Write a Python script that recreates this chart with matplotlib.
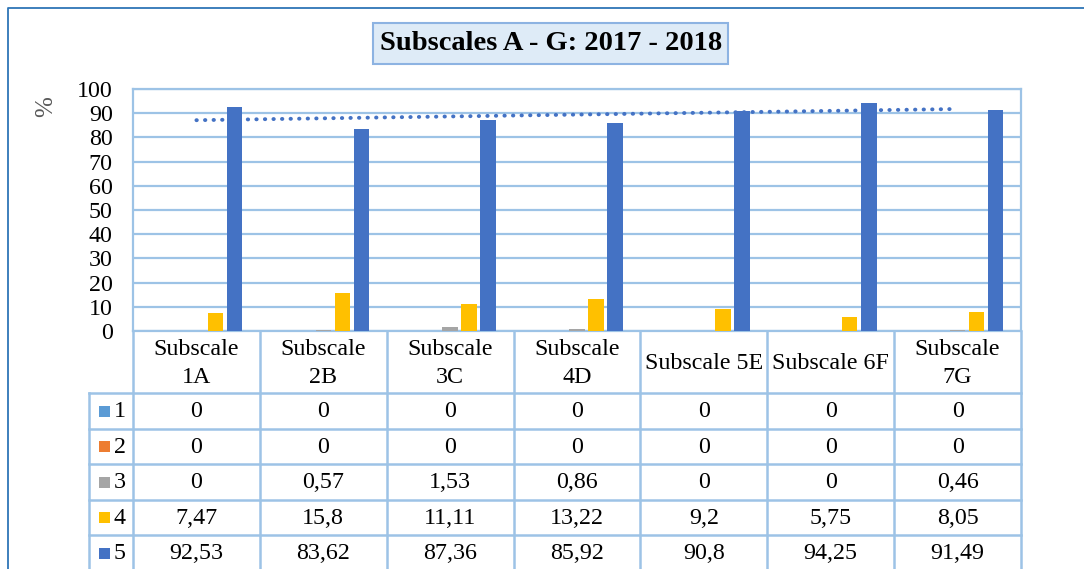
import numpy as np
import matplotlib.pyplot as plt
from matplotlib.patches import Rectangle
from matplotlib.lines import Line2D

plt.rcParams['font.family'] = ['Liberation Serif', 'DejaVu Serif']

# ---------------- data ----------------
categories = ["Subscale\n1A", "Subscale\n2B", "Subscale\n3C", "Subscale\n4D",
              "Subscale 5E", "Subscale 6F", "Subscale\n7G"]
series_names = ["1", "2", "3", "4", "5"]
s1 = [0, 0, 0, 0, 0, 0, 0]
s2 = [0, 0, 0, 0, 0, 0, 0]
s3 = [0, 0.57, 1.53, 0.86, 0, 0, 0.46]
s4 = [7.47, 15.8, 11.11, 13.22, 9.2, 5.75, 8.05]
s5 = [92.53, 83.62, 87.36, 85.92, 90.8, 94.25, 91.49]
series = [s1, s2, s3, s4, s5]
colors = ["#5b9bd5", "#ed7d31", "#a5a5a5", "#ffc000", "#4472c4"]

grid_c = "#9dc3e6"
W, H = 1084, 569
fs = 17.3

fig = plt.figure(figsize=(W / 100, H / 100), dpi=100)


def fbox(x0, y0, x1, y1):
    # pixel box (top-left origin) -> figure fraction rect
    return [x0 / W, 1 - y1 / H, (x1 - x0) / W, (y1 - y0) / H]


# outer chart frame
fig.add_artist(Line2D([8 / W, 8 / W, 1.0], [0.0, 1 - 8 / H, 1 - 8 / H],
                      transform=fig.transFigure, color="#2e75b6", lw=1.3))

# ---------------- bar chart ----------------
ax = fig.add_axes(fbox(133, 89, 1021, 331))
x = np.arange(len(categories))
step, bw = 0.15, 0.122
for i, (vals, c) in enumerate(zip(series, colors)):
    ax.bar(x + (i - 2) * step, vals, width=bw, color=c, zorder=3)

# linear trendline of series 5
k, b = np.polyfit(x, s5, 1)
ax.plot(x, k * x + b, color="#4472c4", lw=2.8,
        linestyle=(0, (0.1, 2.1)), dash_capstyle="round", zorder=4)

ax.set_xlim(-0.5, len(categories) - 0.5)
ax.set_ylim(0, 100)
ax.set_yticks(range(0, 101, 10))
ax.set_xticks([])
ax.tick_params(axis='y', length=0, pad=14.5, labelsize=fs)
ax.grid(axis='y', color=grid_c, lw=1.6, zorder=0)
for sp in ax.spines.values():
    sp.set_color(grid_c)
    sp.set_linewidth(1.6)
fig.text(46 / W, 1 - 107 / H, "%", rotation=90, ha="center", va="center",
         fontsize=18, color="#595959")

# ---------------- title ----------------
fig.add_artist(Rectangle((373 / W, 1 - 63.5 / H), (728 - 373) / W, 40 / H,
                         transform=fig.transFigure, facecolor="#deebf7",
                         edgecolor="#8db3e2", lw=1.5))
fig.text(551 / W, 1 - 44 / H, "Subscales A - G: 2017 - 2018", ha="center",
         va="center", fontsize=20.5, fontweight="bold")

# ---------------- data table ----------------
cw = 888 / len(categories)          # column width in px
lead = 44 / cw                       # legend column width in category units
tx = fig.add_axes(fbox(89, 331, 1021, 569))
tx.set_xlim(-0.5 - lead, len(categories) - 0.5)
tx.set_ylim(238, 0)
tx.axis("off")

head = 62
rowh = 35.5
lkw = dict(color=grid_c, lw=1.8, clip_on=False)
tx.plot([-0.5 - lead, len(categories) - 0.5], [head, head], **lkw)
for r in range(1, len(series) + 1):
    yy = head + r * rowh
    tx.plot([-0.5 - lead, len(categories) - 0.5], [yy, yy], **lkw)
for c in range(len(categories) + 1):
    tx.plot([c - 0.5, c - 0.5], [0, head + len(series) * rowh], **lkw)
tx.plot([-0.5 - lead, -0.5 - lead], [head, head + len(series) * rowh], **lkw)

for j, lab in enumerate(categories):
    tx.text(j, head / 2 + 1.5, lab, ha="center", va="center", fontsize=fs,
            linespacing=1.38)

for i, (name, vals, c) in enumerate(zip(series_names, series, colors)):
    yc = head + (i + 0.5) * rowh
    tx.add_patch(Rectangle((-0.5 - lead + 9.5 / cw, yc - 5), 11 / cw, 11,
                           facecolor=c, edgecolor="none", clip_on=False))
    tx.text(-0.5 - lead + 25 / cw, yc + 1, name, ha="left", va="center",
            fontsize=fs)
    for j, v in enumerate(vals):
        tx.text(j, yc + 1, f"{v:g}".replace(".", ","), ha="center",
                va="center", fontsize=fs)

fig.savefig("out.png", dpi=100)
